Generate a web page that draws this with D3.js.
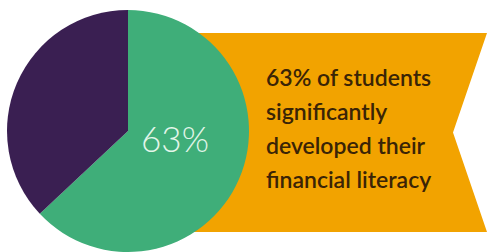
<!DOCTYPE html>
<html>
<head>
<meta charset="utf-8">
<script src="https://cdn.jsdelivr.net/npm/d3@7"></script>
<style>
  html, body { margin: 0; padding: 0; background: #fff; }
  svg { display: block; }
</style>
</head>
<body>
<div id="chart"></div>
<script>
// data
const categories = ["Significantly developed", "Other"];
const shares = [63, 37];
const centreLabel = "63%";
const captionLines = ["63% of students", "significantly", "developed their", "financial literacy"];

const width = 487, height = 252;
const cx = 128, cy = 131, radius = 121;

const svg = d3.select("#chart")
  .append("svg")
  .attr("width", width)
  .attr("height", height);

// orange ribbon behind the pie, notched on the right
const ribbonTop = 33, ribbonBottom = 232, notchX = 453;
svg.append("path")
  .attr("d", d3.line()([
    [cx, ribbonTop], [width, ribbonTop], [notchX, (ribbonTop + ribbonBottom) / 2],
    [width, ribbonBottom], [cx, ribbonBottom]
  ]))
  .attr("fill", "#F2A300");

const colors = d3.scaleOrdinal()
  .domain(categories)
  .range(["#3FAE79", "#3A1F52"]);

const pie = d3.pie().sort(null).value(d => d.value);
const arc = d3.arc().innerRadius(0).outerRadius(radius);

const g = svg.append("g")
  .attr("transform", "translate(" + cx + "," + cy + ")");

g.selectAll("path.slice")
  .data(pie(categories.map((c, i) => ({ name: c, value: shares[i] }))))
  .enter()
  .append("path")
  .attr("class", "slice")
  .attr("d", arc)
  .attr("fill", d => colors(d.data.name));

g.append("text")
  .attr("x", 47)
  .attr("y", 21)
  .attr("text-anchor", "middle")
  .attr("fill", "#E3F6EA")
  .style("font-family", "Lato, 'Open Sans', sans-serif")
  .style("font-weight", 300)
  .style("font-size", "35px")
  .text(centreLabel);

// caption on the ribbon
svg.append("g")
  .selectAll("text")
  .data(captionLines)
  .enter()
  .append("text")
  .attr("x", 266)
  .attr("y", (d, i) => 86 + i * 34)
  .attr("fill", "#3A2406")
  .style("font-family", "Lato, 'Open Sans', sans-serif")
  .style("font-weight", 600)
  .style("font-size", "23px")
  .text(d => d);
</script>
</body>
</html>
